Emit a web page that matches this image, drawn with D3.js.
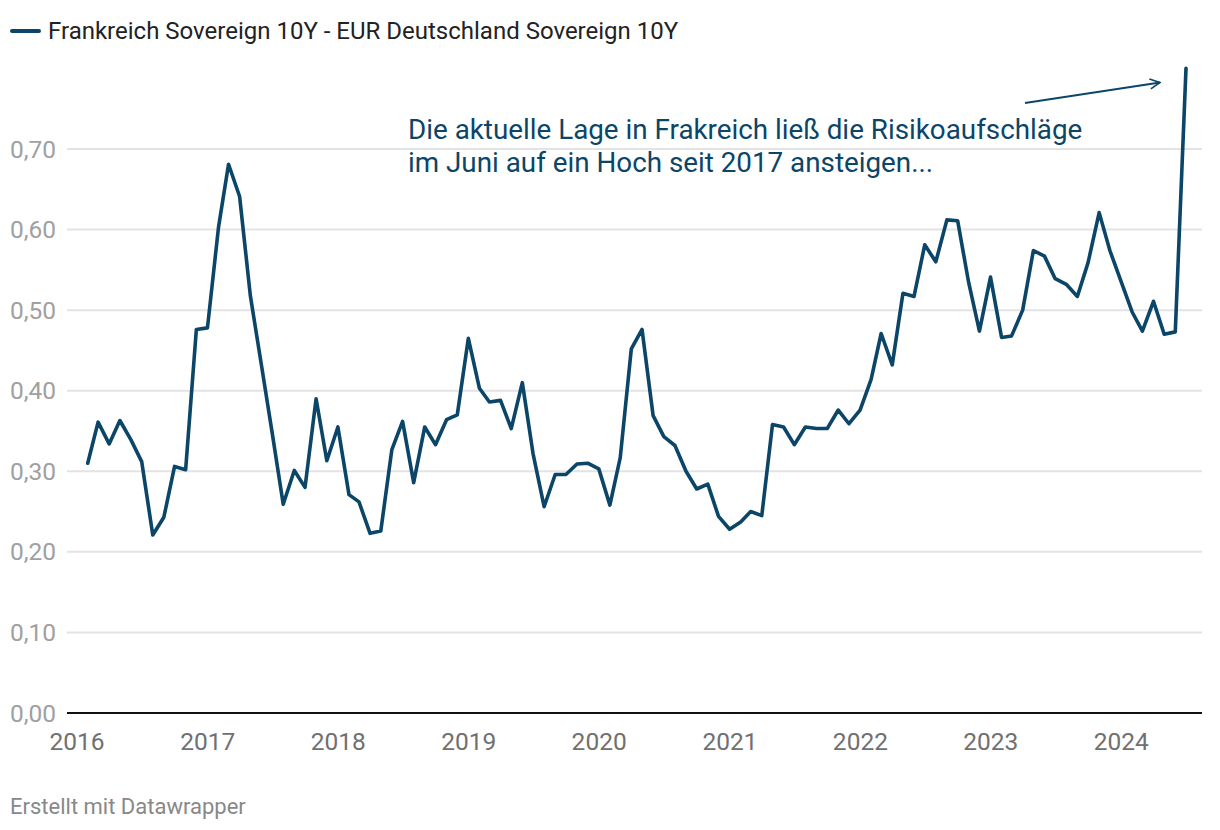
<!DOCTYPE html>
<html><head><meta charset="utf-8">
<script src="https://cdn.jsdelivr.net/npm/d3@7"></script>
<style>
html,body{margin:0;padding:0;background:#fff;}
svg{display:block;font-family:Roboto,"Noto Sans",sans-serif;}
</style></head>
<body><svg id="c" width="1220" height="830"></svg>
<script>
// Series: month-end values, Jan 2016 .. Jun 2024
const seriesName = "Frankreich Sovereign 10Y - EUR Deutschland Sovereign 10Y";
const startYear = 2016, startMonth = 0; // January 2016
const spread = [
  0.310,0.361,0.334,0.363,0.339,0.312,0.221,0.243,0.306,0.302,0.476,0.478,
  0.603,0.681,0.641,0.518,0.432,0.348,0.259,0.301,0.280,0.390,0.313,0.355,
  0.271,0.262,0.223,0.226,0.327,0.362,0.286,0.355,0.333,0.364,0.370,0.465,
  0.403,0.386,0.388,0.353,0.410,0.322,0.256,0.296,0.296,0.309,0.310,0.303,
  0.258,0.317,0.452,0.476,0.369,0.343,0.332,0.300,0.278,0.284,0.244,0.228,
  0.237,0.250,0.245,0.358,0.355,0.333,0.355,0.353,0.353,0.376,0.359,0.376,
  0.414,0.471,0.432,0.521,0.517,0.581,0.560,0.612,0.611,0.534,0.474,0.541,
  0.466,0.468,0.500,0.574,0.567,0.539,0.532,0.517,0.559,0.621,0.574,0.536,
  0.498,0.474,0.511,0.470,0.473,0.800
];
const yTicks = [0,0.1,0.2,0.3,0.4,0.5,0.6,0.7];
const xTickYears = [2016,2017,2018,2019,2020,2021,2022,2023,2024];
const annotationLines = ["Die aktuelle Lage in Frakreich ließ die Risikoaufschläge","im Juni auf ein Hoch seit 2017 ansteigen..."];
const footer = "Erstellt mit Datawrapper";

(function(){
const data = spread.map((v,i)=>({date:new Date(startYear, startMonth+i+1, 0), value:v}));

const color = "#0b4568";
const svg = d3.select("#c");
const pLeft = 67, pRight = 1202, pTop = 68.4, pBottom = 713;

const x = d3.scaleTime()
  .domain([new Date(2016,0,1), new Date(2024,5,30)])
  .range([77, 1186]);
const y = d3.scaleLinear().domain([0,0.8]).range([pBottom, pTop]);

const de = d3.formatLocale({decimal:",",thousands:".",grouping:[3],currency:["","€"]});
const fmt = de.format(".2f");

// gridlines + y labels
const gy = svg.append("g");
gy.selectAll("line").data(yTicks.filter(d=>d>0)).join("line")
  .attr("x1",pLeft).attr("x2",pRight)
  .attr("y1",d=>y(d)).attr("y2",d=>y(d))
  .attr("stroke","#e3e3e3").attr("stroke-width",2);
gy.selectAll("text").data(yTicks).join("text")
  .attr("x",10).attr("y",d=>y(d)).attr("dy","0.35em")
  .attr("fill","#a0a0a0").attr("font-size",24.5)
  .text(d=>fmt(d));

// baseline
svg.append("line").attr("x1",pLeft).attr("x2",pRight)
  .attr("y1",y(0)).attr("y2",y(0)).attr("stroke","#111").attr("stroke-width",2);

// x labels
svg.append("g").selectAll("text").data(xTickYears).join("text")
  .attr("x",d=>x(new Date(d,0,1))).attr("y",741).attr("dy","0.35em")
  .attr("text-anchor","middle").attr("fill","#707070").attr("font-size",24.5)
  .text(d=>d);

// line
const line = d3.line().x(d=>x(d.date)).y(d=>y(d.value));
svg.append("path").datum(data).attr("d",line)
  .attr("fill","none").attr("stroke",color).attr("stroke-width",3.6)
  .attr("stroke-linejoin","round").attr("stroke-linecap","round");

// legend
svg.append("line").attr("x1",12).attr("x2",39).attr("y1",31).attr("y2",31)
  .attr("stroke",color).attr("stroke-width",4).attr("stroke-linecap","round");
svg.append("text").attr("x",48).attr("y",31).attr("dy","0.35em")
  .attr("font-size",24).attr("fill","#222").text(seriesName);

// annotation
const at = svg.append("text").attr("x",408).attr("y",129.5)
  .attr("font-size",27.8).attr("fill",color);
annotationLines.forEach((t,i)=>at.append("tspan").attr("x",408).attr("dy",i===0?"0.35em":"33").text(t));

const defs = svg.append("defs");
defs.append("marker").attr("id","arr").attr("viewBox","0 0 12 12").attr("refX",11).attr("refY",6)
  .attr("markerWidth",12).attr("markerHeight",12).attr("markerUnits","userSpaceOnUse").attr("orient","auto")
  .append("path").attr("d","M1,1 L11,6 L1,11").attr("fill","none").attr("stroke",color).attr("stroke-width",1.6);
svg.append("line").attr("x1",1025).attr("y1",103).attr("x2",1160).attr("y2",82.5)
  .attr("stroke",color).attr("stroke-width",1.8).attr("marker-end","url(#arr)");

// footer
svg.append("text").attr("x",10).attr("y",806).attr("dy","0.35em")
  .attr("font-size",22).attr("fill","#888").text(footer);
})();
</script></body></html>
